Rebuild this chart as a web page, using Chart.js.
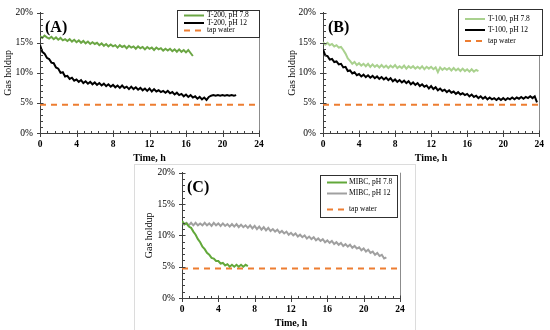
<!DOCTYPE html>
<html>
<head>
<meta charset="utf-8">
<script src="https://cdn.jsdelivr.net/npm/chart.js@4.4.1/dist/chart.umd.min.js"></script>
<style>
  html, body { margin: 0; padding: 0; background: #fff; }
  #wrap { position: relative; width: 550px; height: 330px; overflow: hidden; }
  canvas { position: absolute; }
  #frameC { position: absolute; left: 134px; top: 164px; width: 282px; height: 170px; border: 1px solid #dcdcdc; box-sizing: border-box; }
</style>
</head>
<body>
<div id="wrap">
  <div id="frameC"></div>
  <canvas id="cA" width="275" height="165" style="left:0;top:0"></canvas>
  <canvas id="cB" width="275" height="165" style="left:275px;top:0"></canvas>
  <canvas id="cC" width="290" height="170" style="left:130px;top:160px"></canvas>
</div>
<script>
// ---------------- DATA (gas holdup, %, sampled every 0.25 h) ----------------
const sampleStepH = 0.25;
const xTicksH = [0, 4, 8, 12, 16, 20, 24];
const yTicksPct = [0, 5, 10, 15, 20];

const tapWaterTimes = [0, 24];
const tapWaterHoldup = [4.7, 4.7];

// Panel A
const t200pH78 = [16.1,15.8,16.2,15.9,15.7,16.0,15.6,15.9,15.5,15.8,
  15.4,15.6,15.3,15.6,15.2,15.5,15.1,15.4,15.0,15.3,
  14.9,15.2,14.8,15.1,14.8,15.0,14.6,14.9,14.5,14.8,
  14.4,14.7,14.4,14.6,14.2,14.6,14.3,14.5,14.1,14.5,
  14.2,14.4,14.0,14.4,14.1,14.3,13.9,14.3,14.0,14.2,
  13.8,14.2,13.9,14.1,13.7,14.0,13.7,14.0,13.6,13.9,
  13.5,13.9,13.5,13.8,13.4,13.8,13.3,12.8];
const t200pH12 = [14.6,13.5,13.2,12.5,12.3,11.7,11.6,10.9,10.7,10.0,
  10.1,9.4,9.5,9.0,9.2,8.7,8.9,8.5,8.8,8.3,
  8.6,8.2,8.5,8.1,8.4,8.0,8.3,7.9,8.2,7.8,
  8.1,7.7,8.0,7.6,7.9,7.5,7.9,7.5,7.7,7.3,
  7.7,7.3,7.6,7.2,7.5,7.1,7.4,7.0,7.4,6.9,
  7.3,6.9,7.1,6.8,7.0,6.7,7.0,6.6,6.8,6.4,
  6.7,6.3,6.5,6.1,6.4,6.0,6.3,5.9,6.1,5.7,
  6.0,5.6,5.9,5.5,6.0,6.2,6.3,6.2,6.3,6.2,
  6.3,6.2,6.3,6.2,6.3,6.2,6.3];

// Panel B
const t100pH78 = [15.1,14.7,15.0,14.6,14.8,14.4,14.6,14.2,14.3,13.8,
  13.2,12.4,12.0,11.5,11.8,11.3,11.6,11.2,11.5,11.1,
  11.5,11.0,11.4,11.0,11.3,10.9,11.3,10.9,11.2,10.8,
  11.2,10.9,11.3,10.8,11.1,10.8,11.2,10.7,11.1,10.8,
  11.1,10.7,11.0,10.7,11.1,10.6,11.0,10.7,11.0,10.6,
  10.9,10.1,10.9,10.5,10.8,10.5,10.8,10.4,10.8,10.4,
  10.7,10.3,10.7,10.3,10.6,10.2,10.6,10.2,10.5,10.3];
const t100pH12 = [13.9,12.9,12.8,12.2,12.3,11.8,11.9,11.4,11.5,10.9,
  11.0,10.3,10.4,9.9,10.1,9.6,9.8,9.4,9.7,9.3,
  9.6,9.2,9.5,9.1,9.4,9.0,9.3,8.9,9.2,8.8,
  9.1,8.6,8.9,8.5,8.8,8.4,8.7,8.3,8.6,8.1,
  8.4,8.0,8.3,7.8,8.1,7.7,7.9,7.4,7.8,7.3,
  7.6,7.1,7.4,7.0,7.2,6.8,7.1,6.7,6.9,6.5,
  6.8,6.4,6.6,6.3,6.5,6.1,6.4,6.0,6.2,5.8,
  6.1,5.7,6.0,5.6,5.9,5.6,5.8,5.5,5.8,5.5,
  5.8,5.5,5.8,5.6,5.9,5.6,5.9,5.7,6.0,5.7,
  6.0,5.8,6.1,5.8,6.1,5.1];

// Panel C
const mibcPH78 = [12.3,11.8,11.9,11.4,11.2,10.6,10.1,9.4,8.9,8.2,
  7.8,7.2,6.9,6.4,6.3,5.9,5.9,5.5,5.6,5.2,
  5.4,5.0,5.3,5.0,5.3,5.0,5.3,5.0,5.3,5.1];
const mibcPH12 = [12.1,11.7,12.0,11.6,12.0,11.6,12.0,11.6,11.9,11.6,
  12.0,11.6,11.9,11.5,12.0,11.6,11.9,11.5,11.9,11.5,
  11.8,11.4,11.8,11.4,11.8,11.3,11.7,11.3,11.6,11.2,
  11.6,11.1,11.5,11.0,11.4,10.9,11.3,10.8,11.2,10.7,
  11.0,10.6,10.9,10.4,10.7,10.3,10.6,10.1,10.4,10.0,
  10.3,9.8,10.1,9.7,10.0,9.5,9.8,9.4,9.7,9.2,
  9.5,9.1,9.4,8.9,9.2,8.8,9.1,8.6,8.9,8.5,
  8.8,8.3,8.6,8.2,8.5,8.0,8.3,7.9,8.1,7.6,
  7.9,7.4,7.7,7.2,7.4,6.9,7.2,6.7,6.9,6.3,6.5];

// ---------------- HELPERS ----------------
const SERIF = "'Liberation Serif', 'Times New Roman', serif";
function toPoints(vals) { return vals.map((v, i) => ({ x: i * sampleStepH, y: v })); }
function pairPoints(xs, ys) { return xs.map((x, i) => ({ x: x, y: ys[i] })); }

function series(label, vals, color) {
  return { label, data: toPoints(vals), borderColor: color, backgroundColor: color,
           borderWidth: 2, pointRadius: 0, tension: 0, fill: false };
}
function tapSeries() {
  return { label: 'tap water', data: pairPoints(tapWaterTimes, tapWaterHoldup),
           borderColor: '#ED7D31', backgroundColor: '#ED7D31', borderWidth: 2,
           borderDash: [6, 5], pointRadius: 0, tension: 0, fill: false };
}

const decorPlugin = {
  id: 'decor',
  afterDraw(chart, args, o) {
    const { ctx, chartArea: ca, scales } = chart;
    const xs = scales.x, ys = scales.y;
    ctx.save();
    // right frame line
    ctx.strokeStyle = '#8c8c8c'; ctx.lineWidth = 1;
    const rx = Math.round(ca.right) + 0.5;
    ctx.beginPath(); ctx.moveTo(rx, ca.top); ctx.lineTo(rx, ca.bottom); ctx.stroke();

    // ticks
    ctx.strokeStyle = '#404040';
    const lx = Math.round(ca.left) + 0.5, by = Math.round(ca.bottom) + 0.5;
    const yt = ys.ticks.map(t => t.value);
    ctx.beginPath();
    yt.forEach((v, i) => {
      const p = Math.round(ys.getPixelForValue(v)) + 0.5;
      ctx.moveTo(lx - 3.5, p); ctx.lineTo(lx + 3, p);
      if (i < yt.length - 1) {
        for (let k = 1; k < o.yMinor; k++) {
          const mv = v + (yt[i + 1] - v) * k / o.yMinor;
          const mp = Math.round(ys.getPixelForValue(mv)) + 0.5;
          ctx.moveTo(lx, mp); ctx.lineTo(lx + 2.5, mp);
        }
      }
    });
    const xt = xs.ticks.map(t => t.value);
    xt.forEach((v, i) => {
      const p = Math.round(xs.getPixelForValue(v)) + 0.5;
      ctx.moveTo(p, by + 3.5); ctx.lineTo(p, by - 3);
      if (i < xt.length - 1) {
        for (let k = 1; k < o.xMinor; k++) {
          const mv = v + (xt[i + 1] - v) * k / o.xMinor;
          const mp = Math.round(xs.getPixelForValue(mv)) + 0.5;
          ctx.moveTo(mp, by); ctx.lineTo(mp, by - 2.5);
        }
      }
    });
    ctx.stroke();

    // panel label
    ctx.fillStyle = '#000';
    ctx.font = 'bold 16px ' + SERIF;
    ctx.textAlign = 'left'; ctx.textBaseline = 'alphabetic';
    ctx.fillText(o.label, ca.left + 5, ca.top + 19);

    // legend box
    const L = o.legend;
    ctx.fillStyle = '#fff';
    ctx.fillRect(L.x, L.y, L.w, L.h);
    ctx.strokeStyle = '#303030'; ctx.lineWidth = 1;
    ctx.strokeRect(Math.round(L.x) + 0.5, Math.round(L.y) + 0.5, Math.round(L.w), Math.round(L.h));
    ctx.font = '7.5px ' + SERIF;
    ctx.textBaseline = 'middle';
    chart.data.datasets.forEach((ds, i) => {
      const yy = L.rows[i];
      ctx.save();
      ctx.strokeStyle = ds.borderColor;
      ctx.lineWidth = 2;
      ctx.setLineDash(ds.borderDash || []);
      ctx.beginPath(); ctx.moveTo(L.sx, yy); ctx.lineTo(L.sx + L.sl, yy); ctx.stroke();
      ctx.restore();
      ctx.fillStyle = '#000';
      ctx.fillText(ds.label, L.tx, yy);
    });
    ctx.restore();
  }
};

function buildChart(id, datasets, cfg) {
  return new Chart(document.getElementById(id), {
    type: 'line',
    data: { datasets },
    options: {
      responsive: false, animation: false, devicePixelRatio: 1,
      layout: { padding: cfg.padding },
      plugins: {
        legend: { display: false }, tooltip: { enabled: false },
        decor: cfg.decor
      },
      scales: {
        x: {
          type: 'linear', min: 0, max: 24,
          afterFit: s => { s.height = cfg.xHeight; },
          afterBuildTicks: s => { s.ticks = xTicksH.map(v => ({ value: v })); },
          grid: { display: false, drawTicks: false },
          border: { display: true, color: '#404040', width: 1 },
          ticks: { padding: 6, color: '#000', maxRotation: 0,
                   font: { family: SERIF, size: 9.5, weight: 'bold' } },
          title: { display: true, text: 'Time, h', color: '#000',
                   font: { family: SERIF, size: 10, weight: 'bold' },
                   padding: { top: 0, bottom: 1 } }
        },
        y: {
          type: 'linear', min: 0, max: 20,
          afterFit: s => { s.width = cfg.yWidth; },
          afterBuildTicks: s => { s.ticks = yTicksPct.map(v => ({ value: v })); },
          grid: { display: false, drawTicks: false },
          border: { display: true, color: '#404040', width: 1 },
          ticks: { padding: 7, color: '#000', callback: v => v + '%',
                   font: { family: SERIF, size: 9.5 } },
          title: { display: true, text: 'Gas holdup', color: '#000',
                   font: { family: SERIF, size: 10 },
                   padding: { top: cfg.yTitlePad, bottom: 0 } }
        }
      }
    },
    plugins: [decorPlugin]
  });
}

buildChart('cA', [
  series('T-200, pH 7.8', t200pH78, '#6BA644'),
  series('T-200, pH 12', t200pH12, '#000000'),
  tapSeries()
], {
  padding: { left: 0, top: 6, right: 16, bottom: 0 }, yWidth: 40, xHeight: 32, yTitlePad: 2,
  decor: { label: '(A)', xMinor: 5, yMinor: 5,
    legend: { x: 177, y: 9.5, w: 82, h: 27, rows: [15.5, 23, 30.5], sx: 184, sl: 20, tx: 207 } }
});

buildChart('cB', [
  series('T-100, pH 7.8', t100pH78, '#A9D18E'),
  series('T-100, pH 12', t100pH12, '#000000'),
  tapSeries()
], {
  padding: { left: 0, top: 6, right: 8, bottom: 0 }, yWidth: 48, xHeight: 32, yTitlePad: 11,
  decor: { label: '(B)', xMinor: 5, yMinor: 5,
    legend: { x: 183, y: 9, w: 84, h: 46, rows: [19, 30, 41], sx: 190, sl: 20, tx: 213 } }
});

buildChart('cC', [
  series('MIBC, pH 7.8', mibcPH78, '#62A83A'),
  series('MIBC, pH 12', mibcPH12, '#A0A0A0'),
  tapSeries()
], {
  padding: { left: 0, top: 10, right: 20, bottom: 0 }, yWidth: 52, xHeight: 32, yTitlePad: 13,
  decor: { label: '(C)', xMinor: 5, yMinor: 5,
    legend: { x: 190, y: 15, w: 77, h: 42, rows: [22.5, 33.5, 49.5], sx: 197, sl: 20, tx: 219 } }
});
</script>
</body>
</html>
